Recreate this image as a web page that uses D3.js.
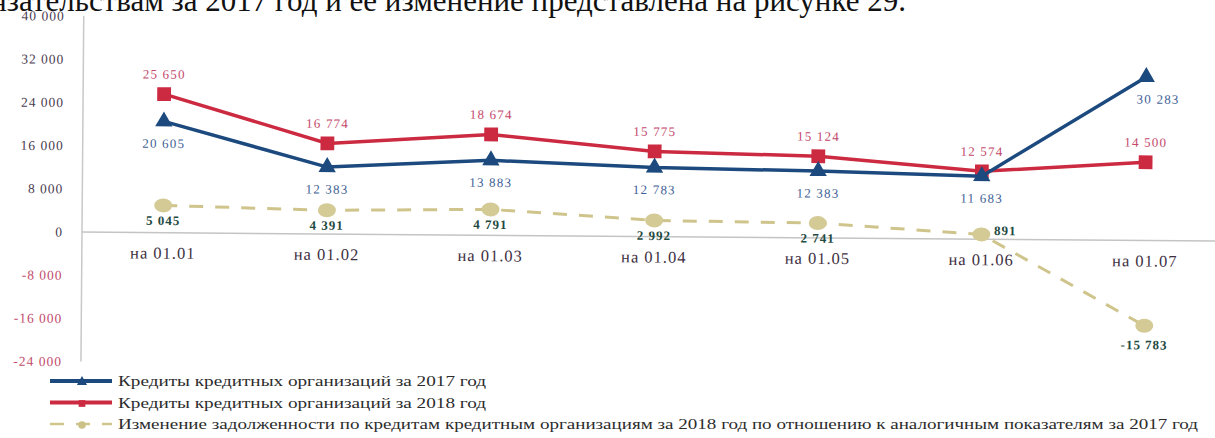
<!DOCTYPE html>
<html>
<head>
<meta charset="utf-8">
<script src="https://cdn.jsdelivr.net/npm/d3@7"></script>
<style>
  body { margin: 0; background: #fff; }
  svg { display: block; font-family: "Liberation Serif", "DejaVu Serif", serif; }
</style>
</head>
<body>
<div id="chart"></div>
<script>
// data
var categories = ['на 01.01', 'на 01.02', 'на 01.03', 'на 01.04', 'на 01.05', 'на 01.06', 'на 01.07'];
var credits2017 = [20605, 12383, 13883, 12783, 12383, 11683, 30283];
var credits2018 = [25650, 16774, 18674, 15775, 15124, 12574, 14500];
var change = [5045, 4391, 4791, 2992, 2741, 891, -15783];
var yTicks = [-24000, -16000, -8000, 0, 8000, 16000, 24000, 32000, 40000];
var legendLabels = [
  'Кредиты кредитных организаций  за 2017 год',
  'Кредиты кредитных организаций  за 2018 год',
  'Изменение задолженности по кредитам кредитным организациям  за 2018 год по отношению к аналогичным показателям за 2017 год'
];

var width = 1215, height = 438;
var BLUE = '#1d4a7e', RED = '#cc2a40', TAN = '#cfc58c';

var svg = d3.select('#chart').append('svg')
  .attr('width', width)
  .attr('height', height);

// text line from the page above the figure (cut off by the crop)
svg.append('text')
  .attr('x', 906).attr('y', 11)
  .attr('text-anchor', 'end')
  .style('font-size', '31px')
  .style('fill', '#111')
  .text('обязательствам за 2017 год и ее изменение представлена на рисунке 29.');

var x = d3.scalePoint().domain(categories).range([163, 1145]);
var y = d3.scaleLinear().domain([-24000, 40000]).range([361.6, 16]);

// the scan is a bit tilted
var g = svg.append('g').attr('transform', 'rotate(0.46,82,232)');

var fmt = function(v) { return d3.format(',')(v).replace(/,/g, ' ').replace('\u2212', '-'); };

// y axis
g.append('line')
  .attr('x1', 82).attr('x2', 82)
  .attr('y1', y(40000)).attr('y2', y(-24000))
  .style('stroke', '#c8c8c8').style('stroke-width', 1.5);

g.selectAll('.ytick')
  .data(yTicks)
  .enter().append('text')
  .attr('class', 'ytick')
  .attr('x', 63)
  .attr('y', function(d) { return y(d); })
  .attr('dy', '0.35em')
  .attr('text-anchor', 'end')
  .style('font-size', '13.5px')
  .style('letter-spacing', '1px')
  .style('fill', function(d) { return d < 0 ? '#c24b6c' : '#4a3b50'; })
  .text(function(d) { return fmt(d); });

// x axis
g.append('line')
  .attr('x1', 82).attr('x2', 1215)
  .attr('y1', y(0)).attr('y2', y(0))
  .style('stroke', '#c4c4c4').style('stroke-width', 1.5);

g.selectAll('.xtick')
  .data(categories)
  .enter().append('text')
  .attr('class', 'xtick')
  .attr('x', function(d) { return x(d); })
  .attr('y', y(0) + 26)
  .attr('text-anchor', 'middle')
  .style('font-size', '16.5px')
  .style('letter-spacing', '1px')
  .style('fill', '#3e3042')
  .text(function(d) { return d; });

var line = d3.line()
  .x(function(d, i) { return x(categories[i]); })
  .y(function(d) { return y(d); });

// change series (dashed)
g.append('path')
  .datum(change)
  .attr('d', line)
  .style('fill', 'none')
  .style('stroke', TAN)
  .style('stroke-width', 3)
  .style('stroke-dasharray', '14,12');

g.selectAll('.dot')
  .data(change)
  .enter().append('ellipse')
  .attr('class', 'dot')
  .attr('cx', function(d, i) { return x(categories[i]); })
  .attr('cy', function(d) { return y(d); })
  .attr('rx', 9).attr('ry', 7)
  .style('fill', '#d3ca95');

// 2018
g.append('path')
  .datum(credits2018)
  .attr('d', line)
  .style('fill', 'none')
  .style('stroke', RED)
  .style('stroke-width', 3.5);

g.selectAll('.sq')
  .data(credits2018)
  .enter().append('path')
  .attr('class', 'sq')
  .attr('transform', function(d, i) { return 'translate(' + x(categories[i]) + ',' + y(d) + ')'; })
  .attr('d', d3.symbol().type(d3.symbolSquare).size(190))
  .style('fill', RED);

// 2017
g.append('path')
  .datum(credits2017)
  .attr('d', line)
  .style('fill', 'none')
  .style('stroke', BLUE)
  .style('stroke-width', 3.5);

g.selectAll('.tri')
  .data(credits2017)
  .enter().append('path')
  .attr('class', 'tri')
  .attr('transform', function(d, i) { return 'translate(' + x(categories[i]) + ',' + y(d) + ')'; })
  .attr('d', d3.symbol().type(d3.symbolTriangle).size(130))
  .style('fill', BLUE);

// value labels
g.selectAll('.lab18')
  .data(credits2018)
  .enter().append('text')
  .attr('class', 'lab18')
  .attr('x', function(d, i) { return x(categories[i]); })
  .attr('y', function(d) { return y(d) - 20; })
  .attr('dy', '0.35em')
  .attr('text-anchor', 'middle')
  .style('font-size', '13px')
  .style('letter-spacing', '1.2px')
  .style('fill', '#c3486b')
  .text(fmt);

g.selectAll('.lab17')
  .data(credits2017)
  .enter().append('text')
  .attr('class', 'lab17')
  .attr('x', function(d, i) { return x(categories[i]) + (i == 6 ? 12 : 0); })
  .attr('y', function(d) { return y(d) + 22; })
  .attr('dy', '0.35em')
  .attr('text-anchor', 'middle')
  .style('font-size', '13px')
  .style('letter-spacing', '1.2px')
  .style('fill', '#3f5f96')
  .text(fmt);

g.selectAll('.labch')
  .data(change)
  .enter().append('text')
  .attr('class', 'labch')
  .attr('x', function(d, i) { return x(categories[i]) + (i == 5 ? 24 : 0); })
  .attr('y', function(d, i) { return y(d) + (i == 5 ? -4 : (i == 6 ? 19 : 15)); })
  .attr('dy', '0.35em')
  .attr('text-anchor', 'middle')
  .style('font-size', '13px')
  .style('font-weight', 'bold')
  .style('letter-spacing', '1px')
  .style('fill', '#1f4a42')
  .text(fmt);

// legend
var legend = svg.selectAll('.legend')
  .data(legendLabels)
  .enter().append('g')
  .attr('class', 'legend')
  .attr('transform', function(d, i) { return 'translate(50,' + (381 + i * 21.5) + ')'; });

legend.append('line')
  .attr('x1', 0).attr('x2', 62)
  .attr('y1', 0).attr('y2', 0)
  .style('stroke', function(d, i) { return [BLUE, RED, TAN][i]; })
  .style('stroke-width', function(d, i) { return i == 2 ? 2.5 : 4; })
  .style('stroke-dasharray', function(d, i) { return i == 2 ? '14,12' : null; });

legend.append('path')
  .attr('transform', 'translate(32,1)')
  .attr('d', function(d, i) {
    return d3.symbol().type([d3.symbolTriangle, d3.symbolSquare, d3.symbolCircle][i]).size(45)();
  })
  .style('fill', function(d, i) { return [BLUE, RED, '#cbc187'][i]; });

legend.append('text')
  .attr('x', 68)
  .attr('y', 5)
  .attr('textLength', function(d, i) { return i == 2 ? 1080 : 368; })
  .attr('lengthAdjust', 'spacingAndGlyphs')
  .style('font-size', '15px')
  .style('fill', '#2c2c2c')
  .text(function(d) { return d; });
</script>
</body>
</html>
